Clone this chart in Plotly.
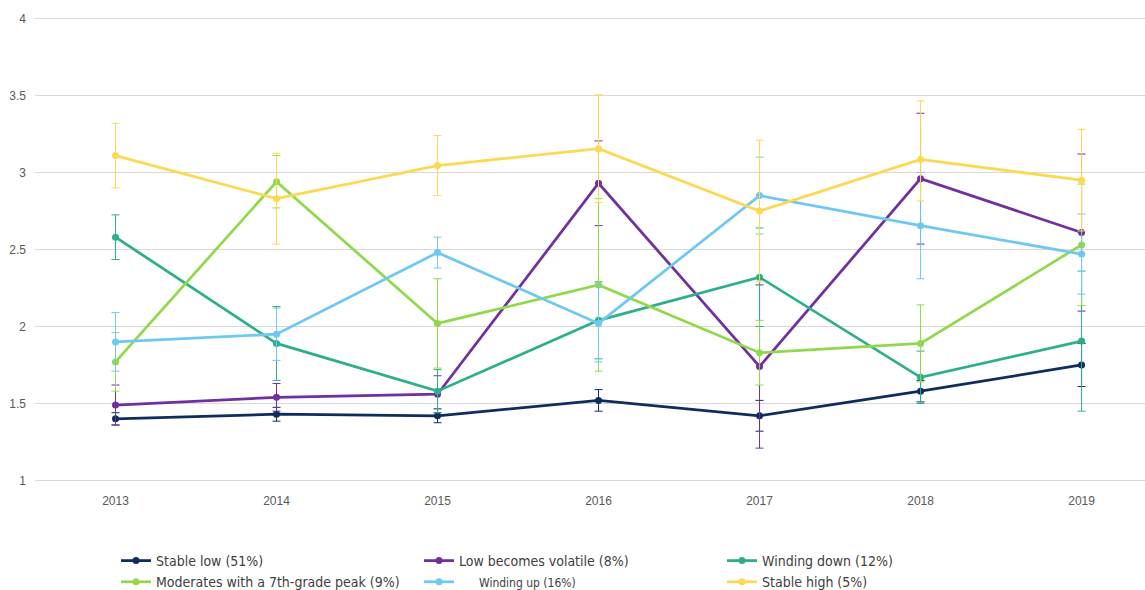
import plotly.graph_objects as go

years = [2013, 2014, 2015, 2016, 2017, 2018, 2019]

names = ["Stable low (51%)", "Low becomes volatile (8%)", "Winding down (12%)",
         "Moderates with a 7th-grade peak (9%)",
         "\u00a0\u00a0\u00a0\u00a0\u00a0<span style='font-size:12px'>Winding up (16%)</span>",
         "Stable high (5%)"]
colors = ["#0e2d5e", "#7030a0", "#2eaf8c", "#92d84c", "#6fc8f0", "#fcd952"]

stable_low = [1.40, 1.43, 1.42, 1.52, 1.42, 1.58, 1.75]
stable_low_err = [0.04, 0.045, 0.045, 0.07, 0.10, 0.07, 0.14]

low_volatile = [1.49, 1.54, 1.56, 2.93, 1.74, 2.96, 2.61]
low_volatile_err = [0.13, 0.09, 0.12, 0.275, 0.53, 0.425, 0.51]

winding_down = [2.58, 1.89, 1.58, 2.04, 2.32, 1.67, 1.905]
winding_down_err = [0.145, 0.24, 0.14, 0.25, 0.32, 0.17, 0.455]

moderates = [1.77, 2.94, 2.02, 2.27, 1.83, 1.89, 2.53]
moderates_err = [0.19, 0.17, 0.29, 0.56, 0.21, 0.25, 0.395]

winding_up = [1.90, 1.95, 2.48, 2.02, 2.85, 2.655, 2.47]
winding_up_err = [0.19, 0.17, 0.10, 0.25, 0.25, 0.345, 0.26]

stable_high = [3.11, 2.83, 3.045, 3.155, 2.75, 3.085, 2.95]
stable_high_err_plus = [0.21, 0.295, 0.195, 0.35, 0.46, 0.38, 0.33]
stable_high_err_minus = [0.21, 0.295, 0.195, 0.35, 0.46, 0.27, 0.33]

y_ticks = [1, 1.5, 2, 2.5, 3, 3.5, 4]
y_ticktext = ["1", "1.5", "2", "2.5", "3", "3.5", "4"]

series = [
    (stable_low, stable_low_err, stable_low_err),
    (low_volatile, low_volatile_err, low_volatile_err),
    (winding_down, winding_down_err, winding_down_err),
    (moderates, moderates_err, moderates_err),
    (winding_up, winding_up_err, winding_up_err),
    (stable_high, stable_high_err_plus, stable_high_err_minus),
]

fig = go.Figure()
for (vals, ep, em), name, col in zip(series, names, colors):
    fig.add_trace(go.Scatter(
        x=years, y=vals, name=name, mode="lines+markers",
        line=dict(color=col, width=2.75),
        marker=dict(color=col, size=7),
        error_y=dict(type="data", array=ep, arrayminus=em, symmetric=False,
                     color=col, thickness=1, width=4),
    ))

tickfont = dict(family="Liberation Sans, Arial, sans-serif", size=12, color="#595959")

fig.update_layout(
    width=1145, height=590,
    margin=dict(l=35, r=0, t=17, b=108),
    plot_bgcolor="white", paper_bgcolor="white",
    font=dict(family="Liberation Sans, Arial, sans-serif", color="#595959", size=12),
    xaxis=dict(range=[2012.5, 2019.394], tickvals=years, ticktext=[str(y) for y in years],
               showgrid=False, zeroline=False, showline=False, ticks="",
               ticklabelstandoff=10, tickfont=tickfont),
    yaxis=dict(range=[0.99, 4.01], tickvals=y_ticks, ticktext=y_ticktext,
               showgrid=True, gridcolor="#d9d9d9", gridwidth=1,
               zeroline=False, showline=False, ticks="", ticklabelstandoff=8,
               tickfont=tickfont),
    legend=dict(orientation="h", xref="container", yref="container",
                x=116/1145, y=1-545/590, xanchor="left", yanchor="top",
                entrywidth=258, entrywidthmode="pixels",
                font=dict(family="Liberation Sans Narrow, DejaVu Sans Condensed, sans-serif",
                          size=14, color="#404040"),
                bgcolor="rgba(0,0,0,0)", itemwidth=30),
    showlegend=True,
)

fig.write_html("out.html")
